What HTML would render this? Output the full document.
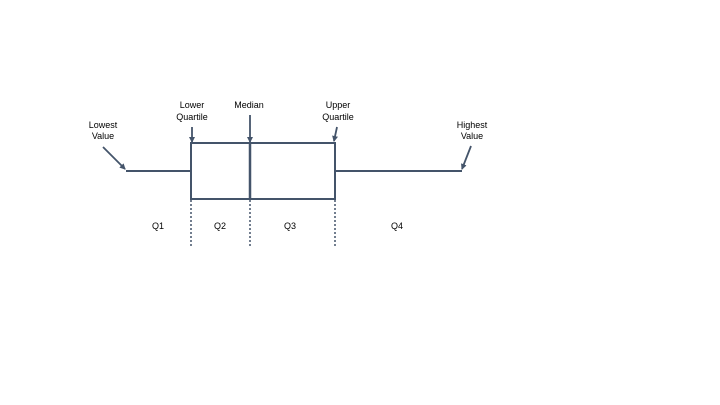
<!DOCTYPE html>
<html><head><meta charset="utf-8"><style>
html,body{margin:0;padding:0;background:#fff;width:720px;height:405px;overflow:hidden}
svg text{font-family:"Liberation Sans",sans-serif;font-size:9px;fill:#000}
</style></head><body>
<svg width="720" height="405" viewBox="0 0 720 405" xmlns="http://www.w3.org/2000/svg">
<defs><marker id="a" markerWidth="6" markerHeight="6" refX="5" refY="3" orient="auto" markerUnits="userSpaceOnUse"><path d="M0,0 L6,3 L0,6 z" fill="#44546a"/></marker></defs>
<g stroke="#44546a" fill="none">
<rect x="191" y="143" width="144" height="56" stroke-width="2"/>
<line x1="250" y1="143" x2="250" y2="199" stroke-width="2.5"/>
<line x1="126" y1="171" x2="191" y2="171" stroke-width="2"/>
<line x1="335" y1="171" x2="462" y2="171" stroke-width="2"/>
<g stroke-width="1.5" stroke-dasharray="2,2">
<line x1="191" y1="200" x2="191" y2="246"/>
<line x1="250" y1="200" x2="250" y2="246"/>
<line x1="335" y1="200" x2="335" y2="246"/>
</g>
<g stroke-width="1.8" marker-end="url(#a)">
<line x1="103" y1="147" x2="125" y2="169"/>
<line x1="192" y1="127" x2="192" y2="142"/>
<line x1="250" y1="115" x2="250" y2="142"/>
<line x1="337" y1="127" x2="334" y2="141"/>
<line x1="471" y1="146" x2="462" y2="169"/>
</g>
</g>
<g text-anchor="middle">
<text x="103" y="128">Lowest</text><text x="103" y="139">Value</text>
<text x="192" y="108">Lower</text><text x="192" y="120">Quartile</text>
<text x="249" y="108">Median</text>
<text x="338" y="108">Upper</text><text x="338" y="120">Quartile</text>
<text x="472" y="128">Highest</text><text x="472" y="139">Value</text>
<text x="158" y="229">Q1</text>
<text x="220" y="229">Q2</text>
<text x="290" y="229">Q3</text>
<text x="397" y="229">Q4</text>
</g>
</svg>
</body></html>
